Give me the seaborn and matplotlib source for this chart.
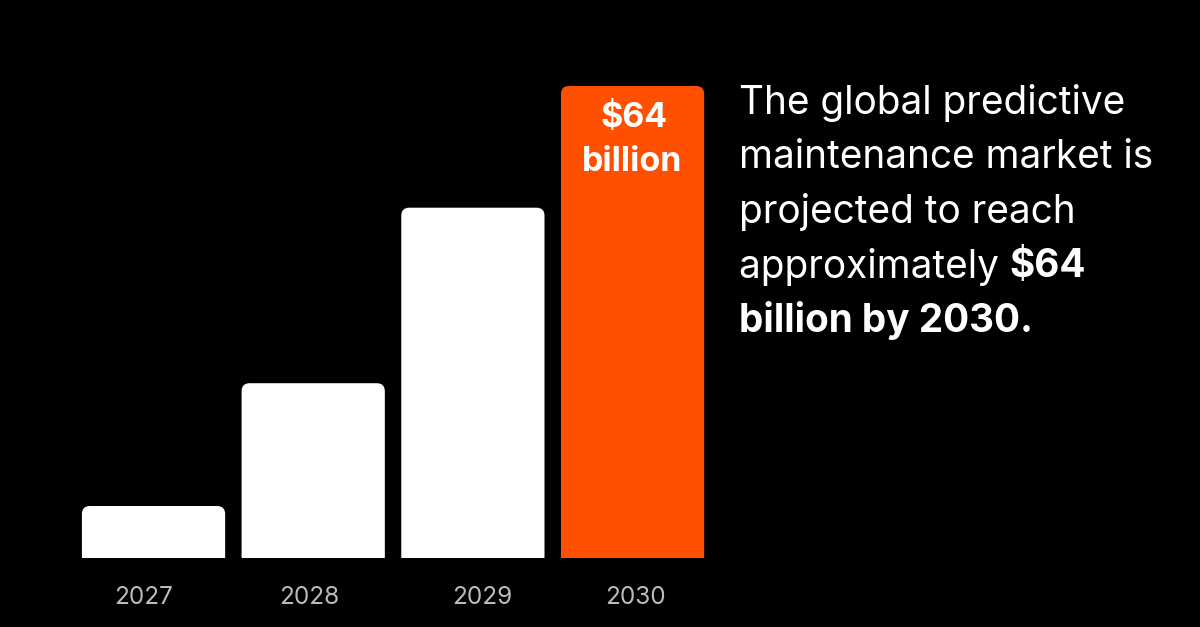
import matplotlib
matplotlib.use("Agg")
import matplotlib.pyplot as plt
import seaborn as sns
import pandas as pd
from matplotlib.patches import FancyBboxPatch

years = ["2027", "2028", "2029", "2030"]
values = [7.05, 23.7, 47.5, 64]
colors = ["#ffffff", "#ffffff", "#ffffff", "#ff5000"]

df = pd.DataFrame({"year": years, "value": values})
W, H = 1200, 627
fig = plt.figure(figsize=(W/100, H/100), dpi=100, facecolor="black")
ax = fig.add_axes([73.7/W, (H-558)/H, 638.7/W, 472/H])
ax.set_facecolor("black")
sns.barplot(data=df, x="year", y="value", hue="year", palette=colors, legend=False,
            width=0.897, ax=ax, saturation=1)
ax.set_xlim(-0.5, 3.5); ax.set_ylim(0, 64)
asp = (1/7.375)/(1/159.67)
for p in list(ax.patches):
    x, w, h = p.get_x(), p.get_width(), p.get_height()
    fc = p.get_facecolor()
    p.remove()
    ax.add_patch(FancyBboxPatch((x, -3), w, h+3, boxstyle="round,pad=0,rounding_size=0.05",
                                mutation_aspect=asp, fc=fc, ec="none"))
for s in ax.spines.values(): s.set_visible(False)
ax.set_xticks([]); ax.set_yticks([]); ax.set_xlabel(""); ax.set_ylabel("")
label_x = [143, 309, 482, 635]
for i, y in enumerate(years):
    fig.text(label_x[i]/W, 1-598/H, y, color="#bbbbbb", fontsize=17.5, family="Inter",
             ha="center", va="center")
fig.text(634/W, 1-118/H, "$64", color="white", fontsize=24.5, weight="bold", family="Inter", ha="center", va="center")
fig.text(632/W, 1-162/H, "billion", color="white", fontsize=24.5, weight="bold", family="Inter", ha="center", va="center")

lines = [[("The global predictive", "normal")], [("maintenance market is", "normal")],
         [("projected to reach", "normal")], [("approximately ", "normal"), ("\\$64", "bold")],
         [("billion by 2030.", "bold")]]
fig.canvas.draw()
r = fig.canvas.get_renderer()
for li, segs in enumerate(lines):
    x = 739
    yy = 1 - (103 + 54.5*li)/H
    for s, wt in segs:
        t = fig.text(x/W, yy, s, color="white", fontsize=27.9, weight=wt, family="Inter", va="center", ha="left")
        bb = t.get_window_extent(renderer=r)
        x += bb.width
fig.savefig("out.png", dpi=100, facecolor="black")
